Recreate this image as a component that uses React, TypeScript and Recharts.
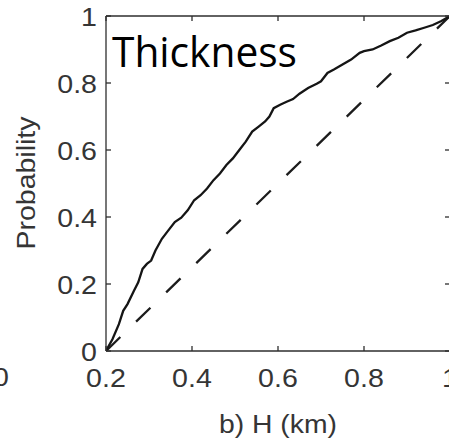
import { LineChart, Line, XAxis, YAxis } from "recharts";

const hKm = [
  0.2, 0.215, 0.23, 0.24, 0.25, 0.265, 0.275, 0.285, 0.295, 0.305, 0.315, 0.33, 0.345, 0.36,
  0.375, 0.39, 0.405, 0.42, 0.435, 0.45, 0.465, 0.48, 0.495, 0.51, 0.525, 0.54, 0.555, 0.57,
  0.58, 0.59, 0.605, 0.62, 0.635, 0.65, 0.67, 0.69, 0.7, 0.715, 0.73, 0.75, 0.77, 0.79, 0.8,
  0.82, 0.84, 0.86, 0.88, 0.9, 0.92, 0.94, 0.96, 0.98, 1.0,
];
const probability = [
  0, 0.035, 0.08, 0.12, 0.14, 0.18, 0.205, 0.245, 0.26, 0.27, 0.3, 0.335, 0.36, 0.385,
  0.398, 0.42, 0.45, 0.465, 0.485, 0.51, 0.53, 0.555, 0.575, 0.6, 0.625, 0.655, 0.67, 0.685,
  0.7, 0.725, 0.735, 0.744, 0.752, 0.768, 0.785, 0.798, 0.805, 0.83, 0.84, 0.855, 0.87, 0.89,
  0.895, 0.9, 0.912, 0.925, 0.935, 0.95, 0.957, 0.965, 0.973, 0.985, 1.0,
];
// uniform reference (dashed)
const uniformH = [0.2, 1.0];
const uniformP = [0, 1];

const xTicks = [0.2, 0.4, 0.6, 0.8, 1];
const yTicks = [0, 0.2, 0.4, 0.6, 0.8, 1];

const cdfData = hKm.map((h, i) => ({ h, p: probability[i] }));
const refData = uniformH.map((h, i) => ({ h, p: uniformP[i] }));

const AXIS = "#2e2e2e";
const LABEL = "#353535";
const FONT = "'Liberation Sans', Arial, Helvetica, sans-serif";
const FS = 26;
const STRETCH = 1.1; // matlab text renders a bit wider than Arial here
const TICK_LEN = 5;

const fmt = (v: number) => String(Number(v.toFixed(1)));
// rough Arial advance widths, used to stretch labels to the measured size
const textLen = (s: string) =>
  [...s].reduce((w, c) => w + (c === "." ? 0.278 : 0.556), 0) * FS * STRETCH;

function BottomTick({ x, y, payload }: any) {
  const s = fmt(payload.value);
  return (
    <g>
      <line x1={x} x2={x} y1={y} y2={y - TICK_LEN} stroke={AXIS} strokeWidth={1.3} />
      <text
        x={x}
        y={y + 36}
        textAnchor="middle"
        fontSize={FS}
        fill={LABEL}
        fontFamily={FONT}
        textLength={textLen(s)}
        lengthAdjust="spacingAndGlyphs"
      >
        {s}
      </text>
    </g>
  );
}

function LeftTick({ x, y, payload }: any) {
  const s = fmt(payload.value);
  return (
    <g>
      <line x1={x} x2={x + TICK_LEN} y1={y} y2={y} stroke={AXIS} strokeWidth={1.3} />
      <text
        x={x - 9}
        y={y + 10}
        textAnchor="end"
        fontSize={FS}
        fill={LABEL}
        fontFamily={FONT}
        textLength={textLen(s)}
        lengthAdjust="spacingAndGlyphs"
      >
        {s}
      </text>
    </g>
  );
}

function TopTick({ x, y }: any) {
  return <line x1={x} x2={x} y1={y} y2={y + TICK_LEN} stroke={AXIS} strokeWidth={1.3} />;
}

function RightTick({ x, y }: any) {
  return <line x1={x} x2={x - TICK_LEN} y1={y} y2={y} stroke={AXIS} strokeWidth={1.3} />;
}

export default function App() {
  return (
    <div
      style={{
        position: "absolute",
        left: 0,
        top: 0,
        width: 449,
        height: 445,
        overflow: "hidden",
        background: "#fff",
      }}
    >
      <LineChart width={460} height={445} margin={{ top: 15, right: 9, left: 105, bottom: 93 }}>
        <XAxis
          type="number"
          dataKey="h"
          domain={[0.2, 1]}
          ticks={xTicks}
          height={1}
          tickSize={0}
          tickMargin={0}
          tickLine={false}
          tick={BottomTick}
          stroke={AXIS}
          strokeWidth={1.3}
          allowDataOverflow
        />
        <XAxis
          xAxisId="top"
          orientation="top"
          type="number"
          dataKey="h"
          domain={[0.2, 1]}
          ticks={xTicks}
          height={1}
          tickSize={0}
          tickMargin={0}
          tickLine={false}
          tick={TopTick}
          stroke={AXIS}
          strokeWidth={1.3}
          allowDataOverflow
        />
        <YAxis
          type="number"
          domain={[0, 1]}
          ticks={yTicks}
          width={1}
          tickSize={0}
          tickMargin={0}
          tickLine={false}
          tick={LeftTick}
          stroke={AXIS}
          strokeWidth={1.3}
          allowDataOverflow
        />
        <YAxis
          yAxisId="right"
          orientation="right"
          type="number"
          domain={[0, 1]}
          ticks={yTicks}
          width={1}
          tickSize={0}
          tickMargin={0}
          tickLine={false}
          tick={RightTick}
          stroke={AXIS}
          strokeWidth={1.3}
          allowDataOverflow
        />
        <Line
          data={refData}
          dataKey="p"
          type="linear"
          stroke="#1c1c1c"
          strokeWidth={2.3}
          strokeDasharray="20 22"
          dot={false}
          isAnimationActive={false}
        />
        <Line
          data={cdfData}
          dataKey="p"
          type="linear"
          stroke="#151515"
          strokeWidth={2.3}
          dot={false}
          isAnimationActive={false}
        />
      </LineChart>

      <svg
        width={449}
        height={445}
        style={{ position: "absolute", left: 0, top: 0, pointerEvents: "none" }}
      >
        <text
          x={112}
          y={67}
          fontSize={42}
          fontFamily="'Open Sans', 'Noto Sans', sans-serif"
          fill="#000"
          textLength={185}
          lengthAdjust="spacingAndGlyphs"
        >
          Thickness
        </text>
        <text
          x={35}
          y={183}
          transform="rotate(-90 35 183)"
          textAnchor="middle"
          fontSize={FS}
          fill={LABEL}
          fontFamily={FONT}
          textLength={133}
          lengthAdjust="spacingAndGlyphs"
        >
          Probability
        </text>
        <text
          x={278}
          y={433}
          textAnchor="middle"
          fontSize={FS}
          fill={LABEL}
          fontFamily={FONT}
          textLength={118}
          lengthAdjust="spacingAndGlyphs"
        >
          b) H (km)
        </text>
        <text
          x={9}
          y={386}
          textAnchor="end"
          fontSize={FS}
          fill={LABEL}
          fontFamily={FONT}
          textLength={textLen("0")}
          lengthAdjust="spacingAndGlyphs"
        >
          0
        </text>
      </svg>
    </div>
  );
}
